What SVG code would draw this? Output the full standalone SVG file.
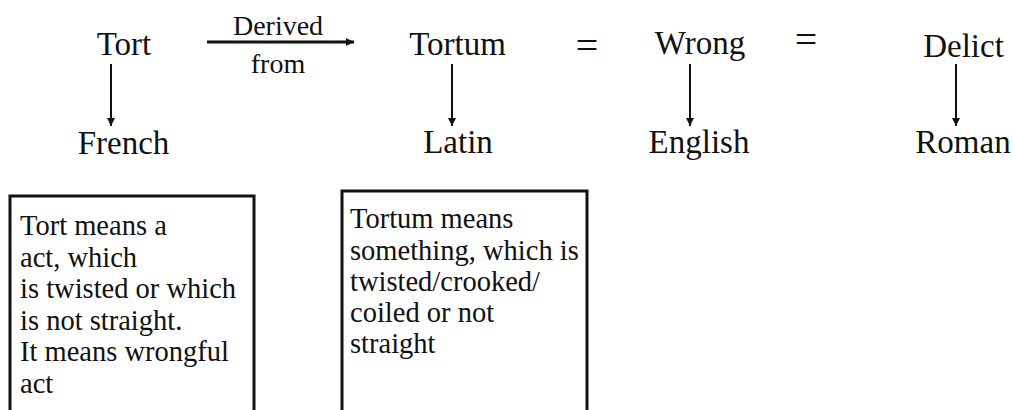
<svg xmlns="http://www.w3.org/2000/svg" width="1013" height="410" viewBox="0 0 1013 410">
<defs>
<style>
text{font-family:'Liberation Serif','Tinos','Times New Roman','DejaVu Serif',serif;fill:#111}
.w{font-size:33px;text-anchor:middle}
.s{font-size:28px;text-anchor:middle}
.e{font-size:40px;text-anchor:middle}
.b{font-size:28.5px}
.box{fill:#fff;stroke:#111;stroke-width:3}
.c{stroke:#111;fill:none}
</style>
<marker id="ah" markerUnits="userSpaceOnUse" markerWidth="10" markerHeight="10" refX="8" refY="4" orient="auto">
<path d="M0,0 L8,4 L0,8 Z" fill="#111"/>
</marker>
</defs>
<rect width="1013" height="410" fill="#fff"/>
<g id="connectors">
<line class="c" x1="207" y1="42" x2="354" y2="42" stroke-width="3" marker-end="url(#ah)"/>
<line class="c" x1="111" y1="64" x2="111" y2="126" stroke-width="2" marker-end="url(#ah)"/>
<line class="c" x1="452" y1="64" x2="452" y2="126" stroke-width="2" marker-end="url(#ah)"/>
<line class="c" x1="690" y1="64" x2="690" y2="126" stroke-width="2" marker-end="url(#ah)"/>
<line class="c" x1="956" y1="64" x2="956" y2="126" stroke-width="2" marker-end="url(#ah)"/>
<text class="s" x="278" y="35">Derived</text>
<text class="s" x="278" y="73">from</text>
<text class="e" x="587" y="59">=</text>
<text class="e" x="806" y="53">=</text>
</g>
<g id="tort"><text class="w" x="124" y="55">Tort</text></g>
<g id="french"><text class="w" x="123.5" y="154">French</text></g>
<g id="tortum"><text class="w" x="457.5" y="55">Tortum</text></g>
<g id="latin"><text class="w" x="458" y="153">Latin</text></g>
<g id="wrong"><text class="w" x="700" y="54">Wrong</text></g>
<g id="english"><text class="w" x="699" y="153">English</text></g>
<g id="delict"><text class="w" x="963.5" y="57">Delict</text></g>
<g id="roman"><text class="w" x="963" y="153">Roman</text></g>
<g id="box-tort">
<rect class="box" x="10" y="196" width="244" height="230"/>
<text class="b" x="20" y="235">Tort means a</text>
<text class="b" x="20" y="266.5">act, which</text>
<text class="b" x="20" y="298">is twisted or which</text>
<text class="b" x="20" y="329.5">is not straight.</text>
<text class="b" x="20" y="361">It means wrongful</text>
<text class="b" x="20" y="392.5">act</text>
</g>
<g id="box-tortum">
<rect class="box" x="342" y="191" width="245" height="235"/>
<text class="b" x="350" y="228">Tortum means</text>
<text class="b" x="350" y="259.5">something, which is</text>
<text class="b" x="350" y="291">twisted/crooked/</text>
<text class="b" x="350" y="322">coiled or not</text>
<text class="b" x="350" y="353">straight</text>
</g>
</svg>
